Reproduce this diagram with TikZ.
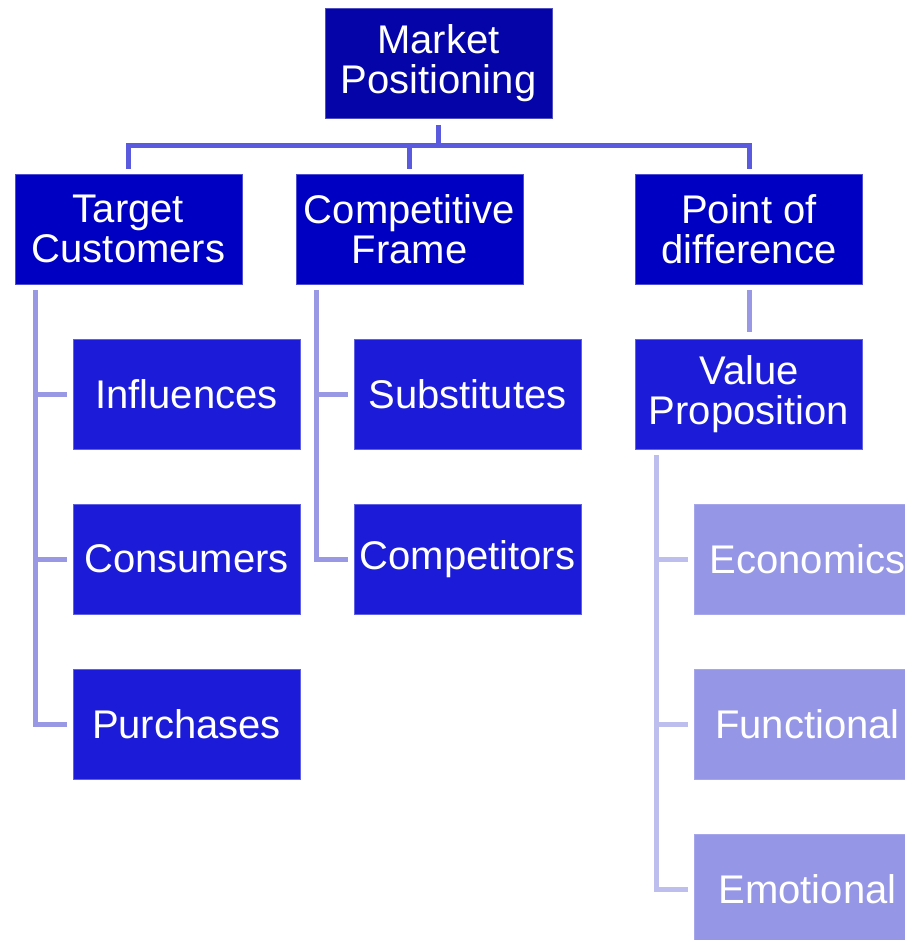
\documentclass[tikz,border=0pt]{standalone}
\usepackage{fontspec}
\setmainfont{Liberation Sans}
\begin{document}
\begin{tikzpicture}[x=1pt,y=-1pt,
  box/.style={minimum width=227pt,minimum height=110pt,inner sep=0pt,anchor=center,
    text=white,align=center,font=\fontsize{40}{40}\selectfont,line width=0.8pt},
  lv0/.style={box,fill=c0,draw=c0!70!white},
  lv1/.style={box,fill=c1,draw=c1!70!white},
  lv2/.style={box,fill=c2,draw=c2!70!white},
  lv3/.style={box,fill=c3,draw=c3!85!white},
  conA/.style={draw=cA,line width=5pt},
  conB/.style={draw=cB,line width=5pt},
  conC/.style={draw=cC,line width=5pt}]
\definecolor{c0}{RGB}{4,4,168}
\definecolor{c1}{RGB}{0,0,194}
\definecolor{c2}{RGB}{28,28,216}
\definecolor{c3}{RGB}{150,150,230}
\definecolor{cA}{RGB}{90,90,222}
\definecolor{cB}{RGB}{152,152,228}
\definecolor{cC}{RGB}{190,190,238}
\useasboundingbox (0,0) rectangle (905,940);

\node[lv0] (root) at (438.5,63.5) {Market\\Positioning};
\node[lv1] (tc) at (128.5,229) {Target\\Customers};
\node[lv1] (cf) at (409.5,229) {Competitive\\Frame};
\node[lv1] (pd) at (749,229) {Point of\\difference};

\node[lv2] (inf) at (186.5,394) {Influences};
\node[lv2] (con) at (186.5,559) {Consumers};
\node[lv2] (pur) at (186.5,724) {Purchases};
\node[lv2] (sub) at (467.5,394) {Substitutes};
\node[lv2] (cmp) at (467.5,559) {Competitors};
\node[lv2] (vp) at (749,394) {Value\\Proposition};

\node[lv3] (eco) at (807.5,559) {Economics};
\node[lv3] (fun) at (807.5,724) {Functional};
\node[lv3] (emo) at (807.5,889) {Emotional};

\coordinate (bar) at (0,145.5);
\draw[conA,shorten <=6pt] (root.south) -- (root.south |- bar);
\draw[conA,shorten <=5pt,shorten >=5pt] (tc.north) |- (pd.north |- bar) -- (pd.north);
\draw[conA,shorten >=5pt] (cf.north |- bar) -- (cf.north);

\coordinate (tcl) at ([xshift=21pt]tc.south west);
\draw[conB,shorten <=6pt,shorten >=6pt] (tcl) |- (pur.west);
\draw[conB,shorten >=6pt] (tcl |- inf.west) -- (inf.west);
\draw[conB,shorten >=6pt] (tcl |- con.west) -- (con.west);

\coordinate (cfl) at ([xshift=21pt]cf.south west);
\draw[conB,shorten <=6pt,shorten >=6pt] (cfl) |- (cmp.west);
\draw[conB,shorten >=6pt] (cfl |- sub.west) -- (sub.west);

\draw[conB,shorten <=6pt,shorten >=7pt] (pd.south) -- (vp.north);

\coordinate (vpl) at ([xshift=21pt]vp.south west);
\draw[conC,shorten <=6pt,shorten >=6pt] (vpl) |- (emo.west);
\draw[conC,shorten >=6pt] (vpl |- eco.west) -- (eco.west);
\draw[conC,shorten >=6pt] (vpl |- fun.west) -- (fun.west);
\end{tikzpicture}
\end{document}
